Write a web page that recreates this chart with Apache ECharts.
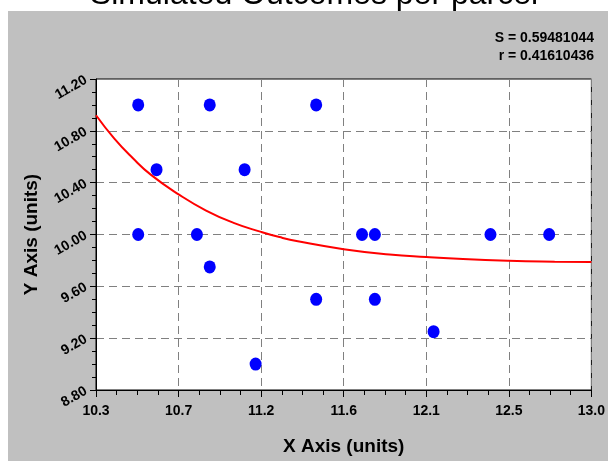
<!DOCTYPE html>
<html>
<head>
<meta charset="utf-8">
<script src="https://cdn.jsdelivr.net/npm/echarts@6/dist/echarts.min.js"></script>
<style>
html,body{margin:0;padding:0;background:#fff;}
#chart{width:608px;height:461px;}
</style>
</head>
<body>
<div id="chart"></div>
<script>
// ---- data ----
const titleText = 'Simulated Outcomes per parcel';
const statLines = ['S = 0.59481044', 'r = 0.41610436'];
const xAxisName = 'X Axis (units)';
const yAxisName = 'Y Axis (units)';

const xMin = 10.3, xMax = 13.0, xStep = 0.45;
const xTickLabels = ['10.3', '10.7', '11.2', '11.6', '12.1', '12.5', '13.0'];
const yMin = 8.8, yMax = 11.2, yStep = 0.4;
const yTickLabels = ['8.80', '9.20', '9.60', '10.00', '10.40', '10.80', '11.20'];

const pointsX = [10.53, 10.92, 11.50, 10.63, 11.11, 10.53, 10.85, 10.92, 11.17, 11.50, 11.75, 11.82, 11.82, 12.14, 12.45, 12.77];
const pointsY = [11.00, 11.00, 11.00, 10.50, 10.50, 10.00, 10.00, 9.75, 9.00, 9.50, 10.00, 10.00, 9.50, 9.25, 10.00, 10.00];

const curveX = [10.3, 10.4, 10.5, 10.6, 10.75, 10.9, 11.05, 11.2, 11.3, 11.4, 11.65, 11.9, 12.1, 12.3, 12.55, 12.8, 13.0];
const curveY = [10.92, 10.74, 10.59, 10.46, 10.31, 10.185, 10.09, 10.02, 9.98, 9.948, 9.887, 9.846, 9.826, 9.81, 9.797, 9.79, 9.787];

// x values are shifted by xMin so that ticks start exactly at the axis minimum
const scatterData = pointsX.map((x, i) => [x - xMin, pointsY[i]]);
const curveData = curveX.map((x, i) => [x - xMin, curveY[i]]);

const chart = echarts.init(document.getElementById('chart'));
const font = 'Liberation Sans, Arial, sans-serif';

chart.setOption({
  animation: false,
  backgroundColor: '#ffffff',
  graphic: [
    { type: 'rect', z: -10, silent: true, shape: { x: 8, y: 11, width: 600, height: 450 }, style: { fill: '#c0c0c0' } },
    { type: 'text', z: -5, silent: true, x: 314, y: 11,
      style: { text: titleText, fontSize: 32, fontFamily: font, fill: '#000', align: 'center', verticalAlign: 'bottom' } },
    { type: 'text', silent: true, x: 594, y: 29,
      style: { text: statLines.join('\n'), fontSize: 14, fontWeight: 'bold', fontFamily: font, fill: '#000', align: 'right', verticalAlign: 'top', lineHeight: 18 } }
  ],
  grid: {
    left: 96, right: 13, top: 79, bottom: 66,
    show: true, backgroundColor: '#ffffff', borderColor: '#000', borderWidth: 1
  },
  xAxis: {
    type: 'value',
    min: 0, max: xMax - xMin, interval: xStep,
    name: xAxisName, nameLocation: 'middle', nameGap: 47,
    nameTextStyle: { fontSize: 19, fontWeight: 'bold', fontFamily: font, color: '#000' },
    axisLine: { show: true, lineStyle: { color: '#000', width: 1 } },
    axisTick: { show: true, inside: false, length: 7, lineStyle: { color: '#000' } },
    minorTick: { show: true, splitNumber: 4, length: 5, lineStyle: { color: '#000' } },
    axisLabel: {
      margin: 14, fontSize: 14, fontWeight: 'bold', fontFamily: font, color: '#000',
      formatter: v => xTickLabels[Math.round(v / xStep)] || ''
    },
    splitLine: { show: true, lineStyle: { color: '#808080', type: [8, 5], width: 1 } },
    minorSplitLine: { show: false }
  },
  yAxis: {
    type: 'value',
    min: yMin, max: yMax, interval: yStep,
    name: yAxisName, nameLocation: 'middle', nameGap: 52,
    nameTextStyle: { fontSize: 19, fontWeight: 'bold', fontFamily: font, color: '#000' },
    axisLine: { show: true, lineStyle: { color: '#000', width: 1 } },
    axisTick: { show: true, inside: false, length: 6, lineStyle: { color: '#000' } },
    minorTick: { show: true, splitNumber: 4, length: 4, lineStyle: { color: '#000' } },
    axisLabel: {
      margin: 10, rotate: 30, fontSize: 14, fontWeight: 'bold', fontFamily: font, color: '#000',
      formatter: v => yTickLabels[Math.round((v - yMin) / yStep)] || ''
    },
    splitLine: { show: true, lineStyle: { color: '#808080', type: [8, 5], width: 1 } }
  },
  series: [
    {
      type: 'line', data: curveData, smooth: true,
      showSymbol: false, symbol: 'none',
      lineStyle: { color: '#ff0000', width: 2 }, z: 2
    },
    {
      type: 'scatter', data: scatterData, symbol: 'circle', symbolSize: [12, 13],
      itemStyle: { color: '#0000ff', opacity: 1 }, z: 3
    }
  ]
});
</script>
</body>
</html>
